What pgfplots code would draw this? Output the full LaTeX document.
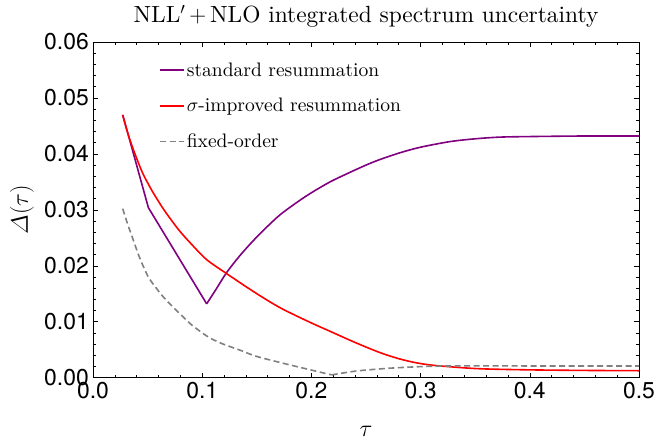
\documentclass[border=0pt]{standalone}
\usepackage{fix-cm}
\usepackage{amsmath}
\usepackage{fontspec}
\setmainfont{lmroman10-regular}[Extension=.otf, ItalicFont=lmroman10-italic, BoldFont=lmroman10-bold]
\usepackage{pgfplots}
\pgfplotsset{compat=1.18}
\newfontfamily\helv{TeX Gyre Heros}
\definecolor{mmapurple}{rgb}{0.5,0,0.5}
\definecolor{mmagray}{rgb}{0.5,0.5,0.5}

\begin{document}
\begin{tikzpicture}
\useasboundingbox (-93bp,-67.3bp) rectangle (561bp,377.7bp);
\begin{axis}[
  scale only axis,
  width=546bp, height=335.7bp,
  xmin=0, xmax=0.5, ymin=0, ymax=0.06,
  xtick={0,0.1,0.2,0.3,0.4,0.5},
  ytick={0,0.01,0.02,0.03,0.04,0.05,0.06},
  minor x tick num=4, minor y tick num=4,
  tick align=inside, tick pos=both,
  major tick length=5bp, minor tick length=3bp,
  every tick/.style={black, line width=0.6bp},
  axis line style={black, line width=0.8bp},
  scaled ticks=false,
  ticklabel style={font=\helv\fontsize{23}{23}\selectfont, inner sep=4bp},
  /pgf/number format/assume math mode=true,
  xticklabel style={/pgf/number format/.cd, fixed, fixed zerofill, precision=1},
  yticklabel style={/pgf/number format/.cd, fixed, fixed zerofill, precision=2},
  xlabel={$\tau$},
  ylabel={$\varDelta(\tau)$},
  label style={font=\fontsize{24}{24}\selectfont},
  xlabel style={at={(axis description cs:0.5,-0.161)}, anchor=center},
  ylabel style={at={(axis description cs:-0.130,0.5)}, anchor=center},
  title={NLL$'$\,$+$\,NLO integrated spectrum uncertainty},
  title style={font=\fontsize{23.5}{24}\selectfont, inner sep=0pt, at={(axis description cs:0.5,1)}, anchor=base, yshift=13.5bp},
  legend style={draw=none, fill=none, at={(axis description cs:0.121,0.945)}, anchor=north west,
    font=\fontsize{19.6}{20}\selectfont, row sep=16.5bp, inner sep=0pt},
  legend cell align=left,
  legend image code/.code={\draw[#1] (0bp,0bp) -- (24bp,0bp);},
]
\addplot[mmapurple, line width=1.6bp, forget plot] coordinates {
(0.0272,0.0470) (0.0507,0.0304) (0.1041,0.0132)};
\addplot[mmapurple, line width=1.6bp, smooth] coordinates {
(0.1041,0.0132) (0.1130,0.0159) (0.1224,0.0188) (0.1340,0.0217) (0.1468,0.0245)
(0.1590,0.0269) (0.1712,0.0291) (0.1850,0.0311) (0.1987,0.0329) (0.2171,0.0350)
(0.2353,0.0367) (0.2500,0.0380) (0.2628,0.0390) (0.2811,0.0402) (0.3000,0.0412)
(0.3270,0.0422) (0.3500,0.0427) (0.3727,0.0430) (0.4000,0.0431) (0.4500,0.0432)
(0.5000,0.0432)};
\addlegendentry{standard resummation}
\addplot[red, line width=1.6bp, smooth] coordinates {
(0.0272,0.0469) (0.0320,0.0436) (0.0369,0.0408) (0.0420,0.0382) (0.0461,0.0363)
(0.0507,0.0346) (0.0553,0.0330) (0.0650,0.0300) (0.0782,0.0265) (0.0900,0.0239)
(0.1041,0.0211) (0.1224,0.0186) (0.1438,0.0158) (0.1600,0.0138) (0.1743,0.0122)
(0.1987,0.0099) (0.2170,0.0083) (0.2400,0.0063) (0.2626,0.0045) (0.2800,0.0034)
(0.2950,0.0027) (0.3080,0.0023) (0.3240,0.0020) (0.3540,0.0016) (0.4000,0.0014)
(0.4500,0.0013) (0.5000,0.00125)};
\addlegendentry{$\sigma$-improved resummation}
\addplot[mmagray, line width=1.6bp, dash pattern=on 6bp off 3.5bp, smooth] coordinates {
(0.0272,0.0302) (0.0320,0.0273) (0.0369,0.0246) (0.0430,0.0213) (0.0507,0.0180)
(0.0580,0.0160) (0.0650,0.0143) (0.0766,0.0120) (0.0888,0.0097) (0.0980,0.0083)
(0.1071,0.0071) (0.1193,0.0060) (0.1350,0.0049) (0.1500,0.0038) (0.1800,0.0023)
(0.2186,0.0005)};
\addlegendentry{fixed-order}
\addplot[mmagray, line width=1.6bp, dash pattern=on 6bp off 3.5bp, smooth, forget plot] coordinates {
(0.2186,0.0005) (0.2415,0.0012) (0.2720,0.0017) (0.3025,0.0020) (0.3270,0.0021)
(0.4000,0.0021) (0.5000,0.0021)};
\end{axis}
\end{tikzpicture}
\end{document}
